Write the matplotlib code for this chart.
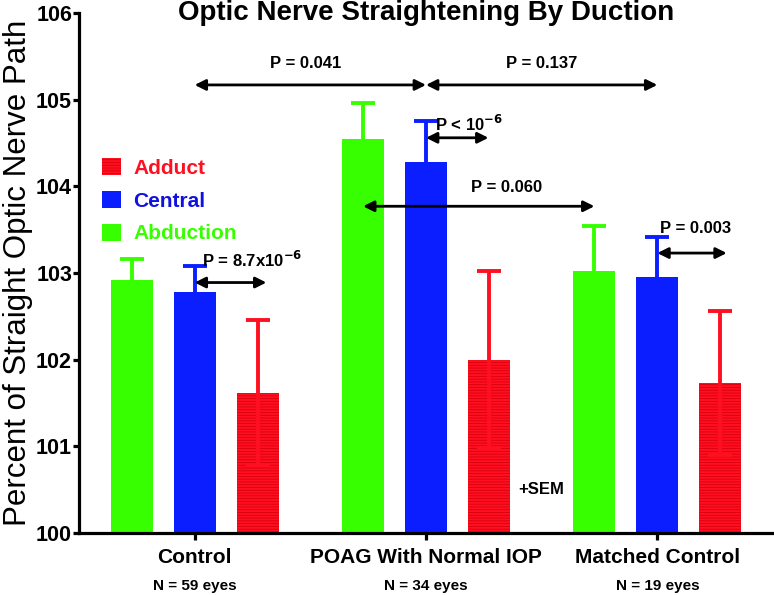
import numpy as np
import matplotlib
matplotlib.use('Agg')
import matplotlib.pyplot as plt
from matplotlib.patches import Patch

narrow = ['Liberation Sans Narrow', 'Liberation Sans', 'DejaVu Sans']
plt.rcParams['font.family'] = ['Liberation Sans', 'DejaVu Sans']
plt.rcParams['mathtext.fontset'] = 'custom'
plt.rcParams['mathtext.rm'] = 'Liberation Sans Narrow:bold'
plt.rcParams['mathtext.bf'] = 'Liberation Sans Narrow:bold'
plt.rcParams['hatch.linewidth'] = 0.6

groups = ['Control', 'POAG With Normal IOP', 'Matched Control']
n_labels = ['N = 59 eyes', 'N = 34 eyes', 'N = 19 eyes']
abduction = [102.92, 104.55, 103.02]
abduction_sem = [0.24, 0.41, 0.52]
central = [102.78, 104.28, 102.95]
central_sem = [0.30, 0.47, 0.47]
adduct = [101.62, 102.00, 101.73]
adduct_sem = [0.84, 1.02, 0.83]

green = '#38ff00'
blue = '#0a1eff'
red = '#ff1020'

fig = plt.figure(figsize=(7.74, 5.95), dpi=100)
ax = fig.add_axes([79/774, 1 - 533/595, 694/774, 520/595])

x = np.arange(len(groups))
off = 0.272
w = 0.182
err_kw = dict(fmt='none', elinewidth=2.8, capsize=8.3, capthick=2.8, zorder=3)

ax.bar(x - off, abduction, w, color=green, linewidth=0, zorder=2)
ax.errorbar(x - off, abduction, yerr=abduction_sem, ecolor=green, **err_kw)
ax.bar(x, central, w, color=blue, linewidth=0, zorder=2)
ax.errorbar(x, central, yerr=central_sem, ecolor=blue, **err_kw)
ax.bar(x + off, adduct, w, color=red, edgecolor='#d8000e', linewidth=0,
       hatch='------', zorder=2)
ax.errorbar(x + off, adduct, yerr=adduct_sem, ecolor=red, **err_kw)

ax.set_xlim(-0.5, 2.5)
ax.set_ylim(100, 106)
ax.set_yticks(range(100, 107))
ax.set_xticks(x)
ax.set_xticklabels(groups, fontsize=15, fontweight='bold', family=narrow)
for lab in ax.get_yticklabels():
    lab.set_fontsize(15.5)
    lab.set_fontweight('heavy')

for s in ['top', 'right']:
    ax.spines[s].set_visible(False)
for s in ['left', 'bottom']:
    ax.spines[s].set_linewidth(2.3)
ax.tick_params(axis='y', width=2.3, length=4, direction='out', pad=1)
ax.tick_params(axis='x', width=2.3, length=5, direction='out', pad=6)

for xi, n in zip(x, n_labels):
    ax.text(xi, -0.102, n, transform=ax.get_xaxis_transform(), ha='center',
            va='center', fontsize=11, fontweight='bold', family=narrow)

ax.set_ylabel('Percent of Straight Optic Nerve Path', fontsize=22.5, labelpad=2)
fig.text(0.55, 1 - 13/595, 'Optic Nerve Straightening By Duction', ha='center',
         va='center', fontsize=20, fontweight='bold', family=narrow)

# significance arrows
arrows = [(0.0, 1.0, 105.17), (1.0, 2.0, 105.17), (1 - off, 2 - off, 103.77),
          (1.0, 1.27, 104.56), (0.0, 0.31, 102.89), (2.0, 2.30, 103.23)]
for x1, x2, y in arrows:
    ax.annotate('', xy=(x2, y), xytext=(x1, y),
                arrowprops=dict(arrowstyle='<|-|>', color='k', lw=2,
                                mutation_scale=16, shrinkA=0, shrinkB=0),
                zorder=4)

tkw = dict(fontsize=12, fontweight='bold', family=narrow, va='center', zorder=5)
ax.text(0.48, 105.42, 'P = 0.041', ha='center', **tkw)
ax.text(1.50, 105.42, 'P = 0.137', ha='center', **tkw)
ax.text(1.35, 103.99, 'P = 0.060', ha='center', **tkw)
ax.text(1.04, 104.72, 'P < 10$^{-6}$', ha='left', **tkw)
ax.text(0.03, 103.15, 'P = 8.7x10$^{-6}$', ha='left', **tkw)
ax.text(2.01, 103.51, 'P = 0.003', ha='left', **tkw)
ax.text(1.5, 100.5, '+SEM', ha='center', **tkw)

handles = [Patch(facecolor=red, edgecolor='#d8000e', linewidth=0, hatch='------'),
           Patch(facecolor=blue, linewidth=0), Patch(facecolor=green, linewidth=0)]
leg = ax.legend(handles, ['Adduct', 'Central', 'Abduction'], loc='upper left',
                bbox_to_anchor=(0.006, 0.757), frameon=False, handlelength=0.9,
                handleheight=0.9, handletextpad=0.6, labelspacing=0.62,
                labelcolor=[red, '#1010e0', green],
                prop=dict(size=15, weight='bold'))

plt.savefig('out.png', dpi=100)
